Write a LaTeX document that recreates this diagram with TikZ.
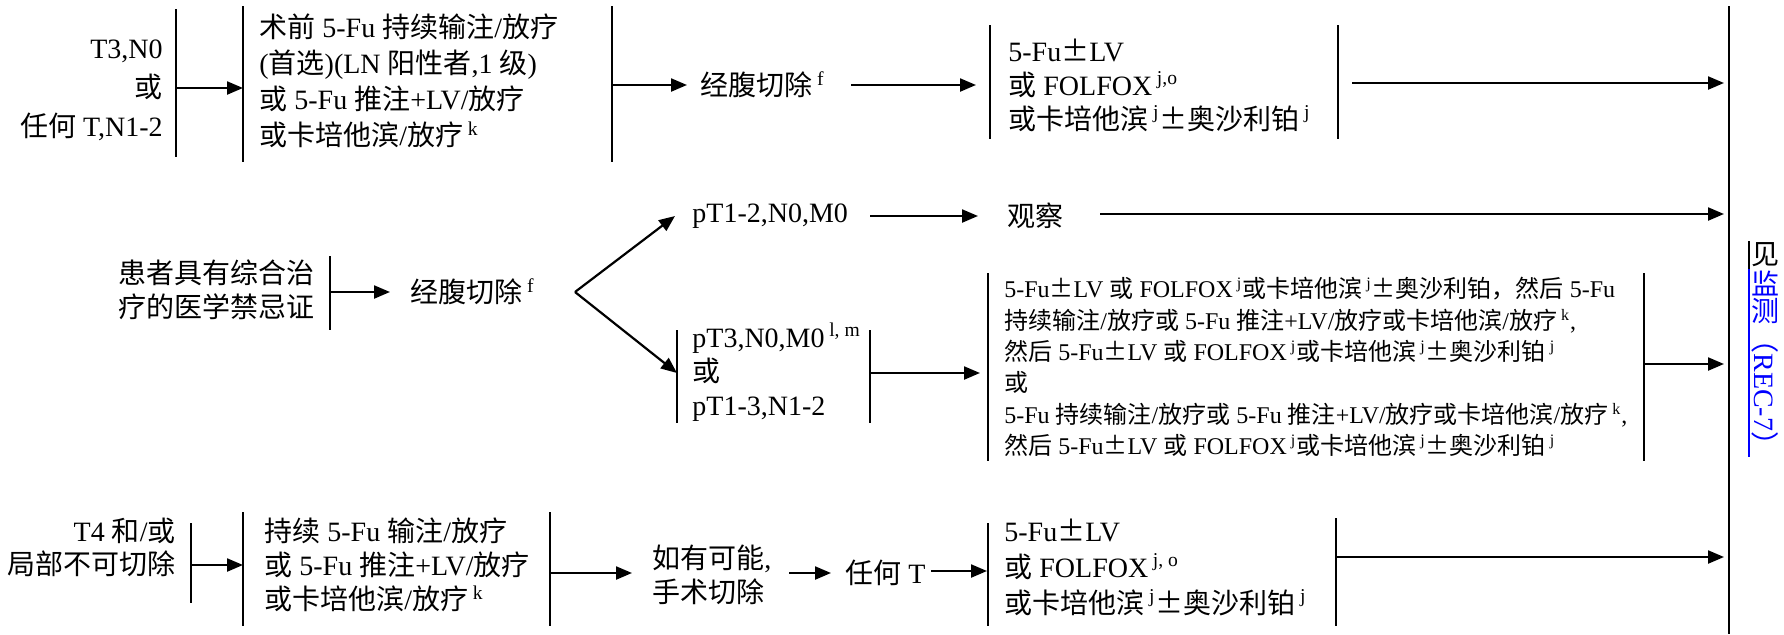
\documentclass[tikz,border=0pt]{standalone}
\usepackage{fontspec}
\setmainfont{Liberation Serif}
\newfontfamily\zhfont{Noto Sans CJK SC}
\usetikzlibrary{arrows.meta}
\newcommand{\zh}[1]{{\zhfont #1}}
\newcommand{\sps}[1]{\textsuperscript{#1}}
\newcommand{\PM}{{\zhfont ±}}
\definecolor{linkblue}{RGB}{0,0,255}
\begin{document}
\begin{tikzpicture}[x=0.5pt,y=-0.5pt,
  bar/.style={line width=1.1pt},
  arr/.style={line width=1.1pt,-{Triangle[length=8pt,width=6.5pt]}},
  txt/.style={inner sep=0pt, font=\fontsize{14}{17}\selectfont},
  sm/.style={inner sep=0pt, font=\fontsize{12}{15.7}\selectfont},
  vt/.style={inner sep=0pt, font=\fontsize{14}{17}\selectfont},
]
\useasboundingbox (0,0) rectangle (1784,634);

% ---------- big right bar ----------
\coordinate (bigt) at (1729,6); \coordinate (bigb) at (1729,634);
\draw[bar] (bigt) -- (bigb);

% ---------- top row ----------
\node[txt, align=right, anchor=east, font=\fontsize{14}{19.5}\selectfont] (T1) at (163,90)
  {T3,N0\\\zh{或}\\\zh{任何} T,N1-2};
\coordinate (b1t) at (176,9); \coordinate (b1b) at (176,157);
\draw[bar] (b1t) -- (b1b);
\coordinate (b2t) at (243,6); \coordinate (b2b) at (243,162);
\draw[bar] (b2t) -- (b2b);
\coordinate (a1s) at (176,88); \coordinate (a1e) at (243,88);
\draw[arr] (a1s) -- (a1e);
\node[txt, align=left, anchor=west, font=\fontsize{14}{18}\selectfont] (T2) at (259,81)
  {\zh{术前} 5-Fu \zh{持续输注}/\zh{放疗}\\
   (\zh{首选})(LN \zh{阳性者},1 \zh{级})\\
   \zh{或} 5-Fu \zh{推注}+LV/\zh{放疗}\\
   \zh{或卡培他滨}/\zh{放疗}\,\sps{k}};
\coordinate (b3t) at (612,6); \coordinate (b3b) at (612,162);
\draw[bar] (b3t) -- (b3b);
\node[txt, anchor=west] (T3) at (700,85) {\zh{经腹切除}\,\sps{f}};
\coordinate (a2s) at (612,85); \coordinate (a2e) at (687,85);
\draw[arr] (a2s) -- (a2e);
\coordinate (b4t) at (990,25); \coordinate (b4b) at (990,139);
\draw[bar] (b4t) -- (b4b);
\coordinate (a3s) at (851,85); \coordinate (a3e) at (976,85);
\draw[arr] (a3s) -- (a3e);
\node[txt, align=left, anchor=west] (T4) at (1008,85)
  {5-Fu\PM LV\\\zh{或} FOLFOX\,\sps{j,o}\\\zh{或卡培他滨}\,\sps{j}\PM\zh{奥沙利铂}\,\sps{j}};
\coordinate (b5t) at (1338,25); \coordinate (b5b) at (1338,139);
\draw[bar] (b5t) -- (b5b);
\coordinate (a4s) at (1352,83); \coordinate (a4e) at (1724,83);
\draw[arr] (a4s) -- (a4e);

% ---------- middle row ----------
\node[txt, align=right, anchor=east] (M1) at (315,290)
  {\zh{患者具有综合治}\\\zh{疗的医学禁忌证}};
\coordinate (m1t) at (330,256); \coordinate (m1b) at (330,330);
\draw[bar] (m1t) -- (m1b);
\coordinate (a5s) at (330,292); \coordinate (a5e) at (390,292);
\draw[arr] (a5s) -- (a5e);
\node[txt, anchor=west] (M2) at (410,292) {\zh{经腹切除}\,\sps{f}};
\coordinate (br) at (575,292);
\coordinate (bru) at (675,216); \coordinate (brd) at (677,373);
\draw[arr] (br) -- (bru);
\draw[arr] (br) -- (brd);
\node[txt, anchor=west] (M3) at (692,216) {pT1-2,N0,M0};
\coordinate (a6s) at (870,216); \coordinate (a6e) at (978,216);
\draw[arr] (a6s) -- (a6e);
\node[txt, anchor=west] (M4) at (1007,216) {\zh{观察}};
\coordinate (a7s) at (1100,214); \coordinate (a7e) at (1724,214);
\draw[arr] (a7s) -- (a7e);
\coordinate (m2t) at (677,330); \coordinate (m2b) at (677,423);
\draw[bar] (m2t) -- (m2b);
\node[txt, align=left, anchor=west] (M5) at (692,372)
  {pT3,N0,M0\,\sps{l, m}\\\zh{或}\\pT1-3,N1-2};
\coordinate (m3t) at (870,330); \coordinate (m3b) at (870,423);
\draw[bar] (m3t) -- (m3b);
\coordinate (a8s) at (870,373); \coordinate (a8e) at (980,373);
\draw[arr] (a8s) -- (a8e);
\coordinate (m4t) at (988,273); \coordinate (m4b) at (988,461);
\draw[bar] (m4t) -- (m4b);
\node[sm, align=left, anchor=west] (M6) at (1004,367)
  {5-Fu\PM LV \zh{或} FOLFOX\,\sps{j}\zh{或卡培他滨}\,\sps{j}\PM\zh{奥沙利铂，然后} 5-Fu\\
   \zh{持续输注}/\zh{放疗或} 5-Fu \zh{推注}+LV/\zh{放疗或卡培他滨}/\zh{放疗}\,\sps{k},\\
   \zh{然后} 5-Fu\PM LV \zh{或} FOLFOX\,\sps{j}\zh{或卡培他滨}\,\sps{j}\PM\zh{奥沙利铂}\,\sps{j}\\
   \zh{或}\\
   5-Fu \zh{持续输注}/\zh{放疗或} 5-Fu \zh{推注}+LV/\zh{放疗或卡培他滨}/\zh{放疗}\,\sps{k},\\
   \zh{然后} 5-Fu\PM LV \zh{或} FOLFOX\,\sps{j}\zh{或卡培他滨}\,\sps{j}\PM\zh{奥沙利铂}\,\sps{j}};
\coordinate (m5t) at (1644,273); \coordinate (m5b) at (1644,461);
\draw[bar] (m5t) -- (m5b);
\coordinate (a9s) at (1644,364); \coordinate (a9e) at (1724,364);
\draw[arr] (a9s) -- (a9e);

% ---------- vertical label ----------
\node[vt] (R1) at (1765,255) {\zh{见}};
\node[vt, text=linkblue] (R2) at (1765,283) {\zh{监}};
\node[vt, text=linkblue] (R3) at (1765,311) {\zh{测}};
\node[vt, text=linkblue, rotate=-90, anchor=west] (R4) at (1765,325)
  {\zh{（}REC-7\zh{）}};
\coordinate (vl1) at (1749,241); \coordinate (vl2) at (1749,269); \coordinate (vl3) at (1749,457);
\draw[line width=0.9pt] (vl1) -- (vl2);
\draw[line width=0.9pt, linkblue] (vl2) -- (vl3);

% ---------- bottom row ----------
\node[txt, align=right, anchor=east, font=\fontsize{14}{16.5}\selectfont] (B1) at (176,547)
  {T4 \zh{和}/\zh{或}\\\zh{局部不可切除}};
\coordinate (n1t) at (191,523); \coordinate (n1b) at (191,603);
\draw[bar] (n1t) -- (n1b);
\coordinate (n2t) at (243,512); \coordinate (n2b) at (243,626);
\draw[bar] (n2t) -- (n2b);
\coordinate (a10s) at (191,565); \coordinate (a10e) at (243,565);
\draw[arr] (a10s) -- (a10e);
\node[txt, align=left, anchor=west] (B2) at (264,565)
  {\zh{持续} 5-Fu \zh{输注}/\zh{放疗}\\\zh{或} 5-Fu \zh{推注}+LV/\zh{放疗}\\\zh{或卡培他滨}/\zh{放疗}\,\sps{k}};
\coordinate (n3t) at (550,512); \coordinate (n3b) at (550,626);
\draw[bar] (n3t) -- (n3b);
\coordinate (a11s) at (550,573); \coordinate (a11e) at (632,573);
\draw[arr] (a11s) -- (a11e);
\node[txt, align=left, anchor=west] (B3) at (652,575) {\zh{如有可能},\\\zh{手术切除}};
\coordinate (a12s) at (789,573); \coordinate (a12e) at (831,573);
\draw[arr] (a12s) -- (a12e);
\node[txt, anchor=west] (B4) at (845,573) {\zh{任何} T};
\coordinate (n4t) at (988,523); \coordinate (n4b) at (988,626);
\draw[bar] (n4t) -- (n4b);
\coordinate (a13s) at (931,571); \coordinate (a13e) at (987,571);
\draw[arr] (a13s) -- (a13e);
\node[txt, align=left, anchor=west, font=\fontsize{14}{18}\selectfont] (B5) at (1004,567)
  {5-Fu\PM LV\\\zh{或} FOLFOX\,\sps{j, o}\\\zh{或卡培他滨}\,\sps{j}\PM\zh{奥沙利铂}\,\sps{j}};
\coordinate (n5t) at (1336,518); \coordinate (n5b) at (1336,626);
\draw[bar] (n5t) -- (n5b);
\coordinate (a14s) at (1336,557); \coordinate (a14e) at (1724,557);
\draw[arr] (a14s) -- (a14e);
\end{tikzpicture}
\end{document}
